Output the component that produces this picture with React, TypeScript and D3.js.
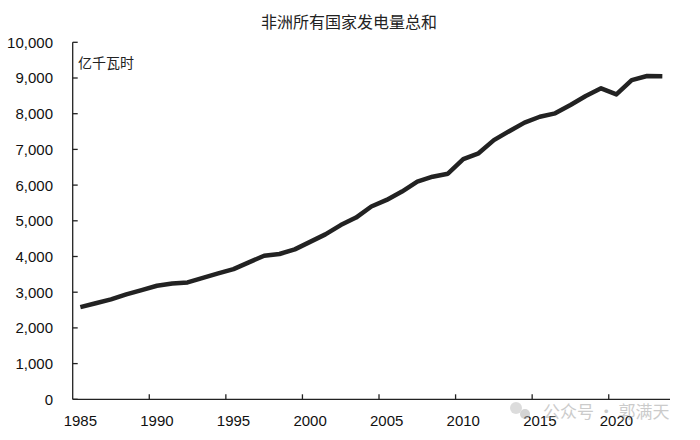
import React from "react";
import * as d3 from "d3";

const years: number[] = [
  1985, 1986, 1987, 1988, 1989, 1990, 1991, 1992, 1993, 1994, 1995, 1996, 1997,
  1998, 1999, 2000, 2001, 2002, 2003, 2004, 2005, 2006, 2007, 2008, 2009, 2010,
  2011, 2012, 2013, 2014, 2015, 2016, 2017, 2018, 2019, 2020, 2021, 2022, 2023,
];
const generation: number[] = [
  2580, 2690, 2800, 2940, 3060, 3180, 3245, 3275, 3400, 3525, 3645, 3835, 4020,
  4070, 4200, 4410, 4620, 4880, 5090, 5400, 5585, 5820, 6095, 6235, 6320, 6725,
  6890, 7260, 7510, 7750, 7915, 8010, 8245, 8495, 8710, 8540, 8940, 9055, 9050,
];
const yTicks: number[] = [0, 1000, 2000, 3000, 4000, 5000, 6000, 7000, 8000, 9000, 10000];
const xLabelYears: number[] = [1985, 1990, 1995, 2000, 2005, 2010, 2015, 2020];
const title = "非洲所有国家发电量总和";
const unit = "亿千瓦时";
const watermark = "公众号 · 郭满天";

const W = 700;
const H = 440;
const left = 72.7;
const right = 670;
const top = 42.3;
const bottom = 399.3;

export default function App() {
  const x = d3
    .scaleBand<number>()
    .domain(years)
    .range([left, right])
    .paddingInner(0)
    .paddingOuter(0);
  const bw = x.bandwidth();
  const cx = (yr: number) => (x(yr) as number) + bw / 2;
  const y = d3.scaleLinear().domain([0, 10000]).range([bottom, top]);
  const line = d3
    .line<number>()
    .x((_, i) => cx(years[i]))
    .y((d) => y(d));
  const fmt = d3.format(",");
  const numFont = "'Liberation Sans', Arial, sans-serif";
  const cjkFont = "'Noto Sans CJK SC', sans-serif";
  return (
    <svg
      width={W}
      height={H}
      style={{ position: "absolute", left: 0, top: 0, background: "#fff" }}
    >
      <rect x={0} y={0} width={W} height={H} fill="#fff" />
      <text
        x={349}
        y={22}
        dy="0.36em"
        textAnchor="middle"
        fontFamily={cjkFont}
        fontSize={16}
        fill="#222"
      >
        {title}
      </text>
      <text x={78} y={63} dy="0.36em" fontFamily={cjkFont} fontSize={14} fill="#222">
        {unit}
      </text>
      {/* y axis */}
      <line x1={left} x2={left} y1={top} y2={bottom} stroke="#222" strokeWidth={1.3} />
      {yTicks.map((t) => (
        <g key={t}>
          <line x1={left} x2={left + 5} y1={y(t)} y2={y(t)} stroke="#222" strokeWidth={1.3} />
          <text
            x={53}
            y={y(t)}
            dy="0.36em"
            textAnchor="end"
            fontFamily={numFont}
            fontSize={15}
            fill="#111"
          >
            {fmt(t)}
          </text>
        </g>
      ))}
      {/* x axis */}
      <line x1={left} x2={right} y1={bottom} y2={bottom} stroke="#222" strokeWidth={1.3} />
      {xLabelYears.map((yr) => (
        <g key={yr}>
          {yr !== 1985 && (
            <line
              x1={x(yr) as number}
              x2={x(yr) as number}
              y1={bottom}
              y2={bottom - 5}
              stroke="#222"
              strokeWidth={1.3}
            />
          )}
          <text
            x={cx(yr)}
            y={426}
            textAnchor="middle"
            fontFamily={numFont}
            fontSize={15}
            fill="#111"
          >
            {yr}
          </text>
        </g>
      ))}
      <path
        d={line(generation) || ""}
        fill="none"
        stroke="#222"
        strokeWidth={4.5}
        strokeLinejoin="round"
      />
      <g opacity={0.5}>
        <circle cx={516} cy={408} r={6} fill="#bbb" />
        <circle cx={525} cy={414} r={5} fill="#aaa" />
        <text x={543} y={418} fontFamily={cjkFont} fontSize={17} fill="#999">
          {watermark}
        </text>
      </g>
    </svg>
  );
}
